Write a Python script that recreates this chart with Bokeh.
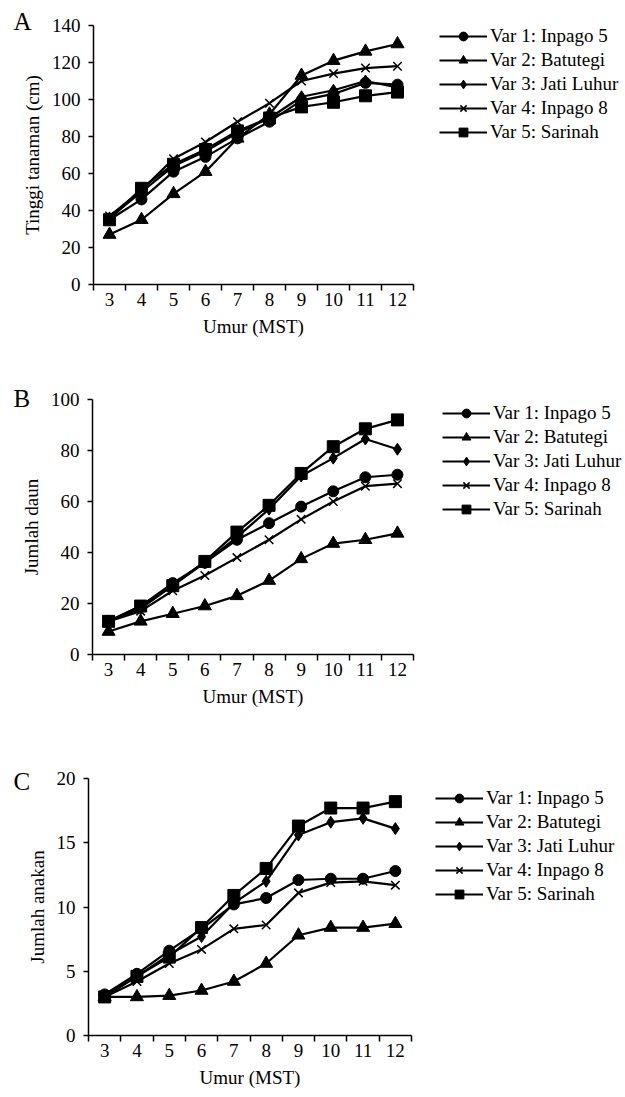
from bokeh.plotting import figure
from bokeh.models import Range1d, FixedTicker, Legend, LegendItem, Label
from bokeh.layouts import column, row
from bokeh.embed import file_html
from bokeh.resources import INLINE

weeks = [3, 4, 5, 6, 7, 8, 9, 10, 11, 12]
series_names = ["Var 1: Inpago 5", "Var 2: Batutegi", "Var 3: Jati Luhur",
                "Var 4: Inpago 8", "Var 5: Sarinah"]

# Panel A: Tinggi tanaman (cm)
height_v1 = [35, 46, 61, 69, 79, 88, 99.5, 103, 109, 108]
height_v2 = [27, 35, 49, 61, 79, 92, 113, 121, 126, 130]
height_v3 = [36, 50, 64, 72, 82, 90, 101.5, 105, 110, 106.5]
height_v4 = [37, 51, 68, 77, 88, 98, 110, 114, 117, 118]
height_v5 = [35, 52, 65, 73, 83, 90, 96, 98.5, 102, 104]

# Panel B: Jumlah daun
leaves_v1 = [13, 19, 28, 36, 45, 51.5, 58, 64, 69.5, 70.5]
leaves_v2 = [9, 13, 16, 19, 23, 29, 37.5, 43.5, 45, 47.5]
leaves_v3 = [13, 18, 27, 36, 46, 57, 70, 77, 84.5, 80.5]
leaves_v4 = [13, 17, 25, 31, 38, 45, 53, 60, 66, 67]
leaves_v5 = [13, 19, 27, 36.5, 48, 58.5, 71, 81.5, 88.5, 92]

# Panel C: Jumlah anakan
tillers_v1 = [3.2, 4.8, 6.6, 8.3, 10.2, 10.7, 12.1, 12.2, 12.2, 12.8]
tillers_v2 = [3.0, 3.0, 3.1, 3.5, 4.2, 5.6, 7.8, 8.4, 8.4, 8.7]
tillers_v3 = [3.1, 4.6, 6.3, 7.7, 10.3, 12.0, 15.6, 16.6, 16.9, 16.1]
tillers_v4 = [3.0, 4.2, 5.6, 6.7, 8.3, 8.6, 11.1, 11.9, 12.0, 11.7]
tillers_v5 = [3.0, 4.6, 6.1, 8.4, 10.9, 13.0, 16.3, 17.7, 17.7, 18.2]

x_label = "Umur (MST)"

FONT = "Liberation Serif"
markers = ["circle", "triangle", "diamond", "x", "square"]
msizes = [11, 13, 12, 12, 12]
PLOT_W = 430
LEG_W = 195
LW = 2.2


def panel(letter, ylabel, ymax, ystep, series, height, b_left, b_top,
          b_bottom, leg_x, leg_y, let_x, let_y):
    p = figure(width=PLOT_W, height=height, output_backend="svg",
               toolbar_location=None, x_range=Range1d(2.5, 12.5),
               y_range=Range1d(0, ymax), min_border_left=b_left,
               min_border_top=b_top, min_border_bottom=b_bottom,
               min_border_right=PLOT_W - b_left - 323)
    p.outline_line_color = None
    p.xgrid.visible = False
    p.ygrid.visible = False

    for ys, mk, ms in zip(series, markers, msizes):
        p.line(weeks, ys, line_color="black", line_width=LW)
        p.scatter(weeks, ys, marker=mk, size=ms, fill_color="black",
                  line_color="black", line_width=1.5 if mk == "x" else 1)

    xa = p.xaxis[0]
    xa.ticker = FixedTicker(ticks=weeks,
                            minor_ticks=[w - 0.5 for w in weeks] + [12.5])
    xa.major_tick_out = 0
    xa.major_tick_in = 0
    xa.minor_tick_out = 6
    xa.minor_tick_in = 0
    xa.minor_tick_line_color = "black"
    xa.minor_tick_line_width = 1.5
    xa.axis_label = x_label
    xa.major_label_standoff = 2
    xa.axis_label_standoff = 7

    ya = p.yaxis[0]
    ya.ticker = FixedTicker(ticks=list(range(0, ymax + 1, ystep)))
    ya.major_tick_out = 5
    ya.major_tick_in = 0
    ya.minor_tick_line_color = None
    ya.major_tick_line_color = "black"
    ya.major_tick_line_width = 1.5
    ya.axis_label = ylabel
    ya.major_label_standoff = 8
    ya.axis_label_standoff = 6

    for ax in (xa, ya):
        ax.axis_line_color = "black"
        ax.axis_line_width = 1.5
        ax.major_label_text_font = FONT
        ax.major_label_text_font_size = "19px"
        ax.major_label_text_color = "black"
        ax.axis_label_text_font = FONT
        ax.axis_label_text_font_size = "19px"
        ax.axis_label_text_font_style = "normal"
        ax.axis_label_text_color = "black"

    p.add_layout(Label(x=let_x, y=let_y, x_units="canvas", y_units="canvas",
                       text=letter, text_font=FONT, text_font_size="25px",
                       text_color="black", text_baseline="alphabetic"),
                 "left")

    # legend in its own figure; the series are drawn there outside its view
    lf = figure(width=LEG_W, height=height, output_backend="svg",
                toolbar_location=None, x_axis_type=None, y_axis_type=None,
                x_range=Range1d(100, 101), y_range=Range1d(0, ymax),
                min_border=0)
    lf.outline_line_color = None
    lf.xgrid.visible = False
    lf.ygrid.visible = False
    items = []
    for name, ys, mk in zip(series_names, series, markers):
        lr = lf.line(weeks, ys, line_color="black", line_width=LW)
        sr = lf.scatter(weeks, ys, marker=mk, size=9, fill_color="black",
                        line_color="black",
                        line_width=1.5 if mk == "x" else 1)
        items.append(LegendItem(label=name, renderers=[lr, sr]))
    legend = Legend(items=items, location=(leg_x, leg_y), padding=0, margin=0,
                    spacing=2, glyph_width=48, glyph_height=22,
                    label_height=22, label_standoff=3,
                    label_text_font=FONT, label_text_font_size="19px",
                    label_text_color="black", border_line_alpha=0,
                    background_fill_alpha=0)
    lf.add_layout(legend)
    return row(p, lf, spacing=0)


rA = panel("A", "Tinggi tanaman (cm)", 140, 20,
           [height_v1, height_v2, height_v3, height_v4, height_v5],
           370, 90, 25, 86, 9, 141, 13, 21)
rB = panel("B", "Jumlah daun", 100, 20,
           [leaves_v1, leaves_v2, leaves_v3, leaves_v4, leaves_v5],
           360, 90, 29, 76, 12, 134, 13, 28)
rC = panel("C", "Jumlah anakan", 20, 5,
           [tillers_v1, tillers_v2, tillers_v3, tillers_v4, tillers_v5],
           365, 88, 48, 60, 5, 130, 13, 51)

layout = column(rA, rB, rC, spacing=0)
open("out.html", "w").write(file_html(layout, INLINE))
